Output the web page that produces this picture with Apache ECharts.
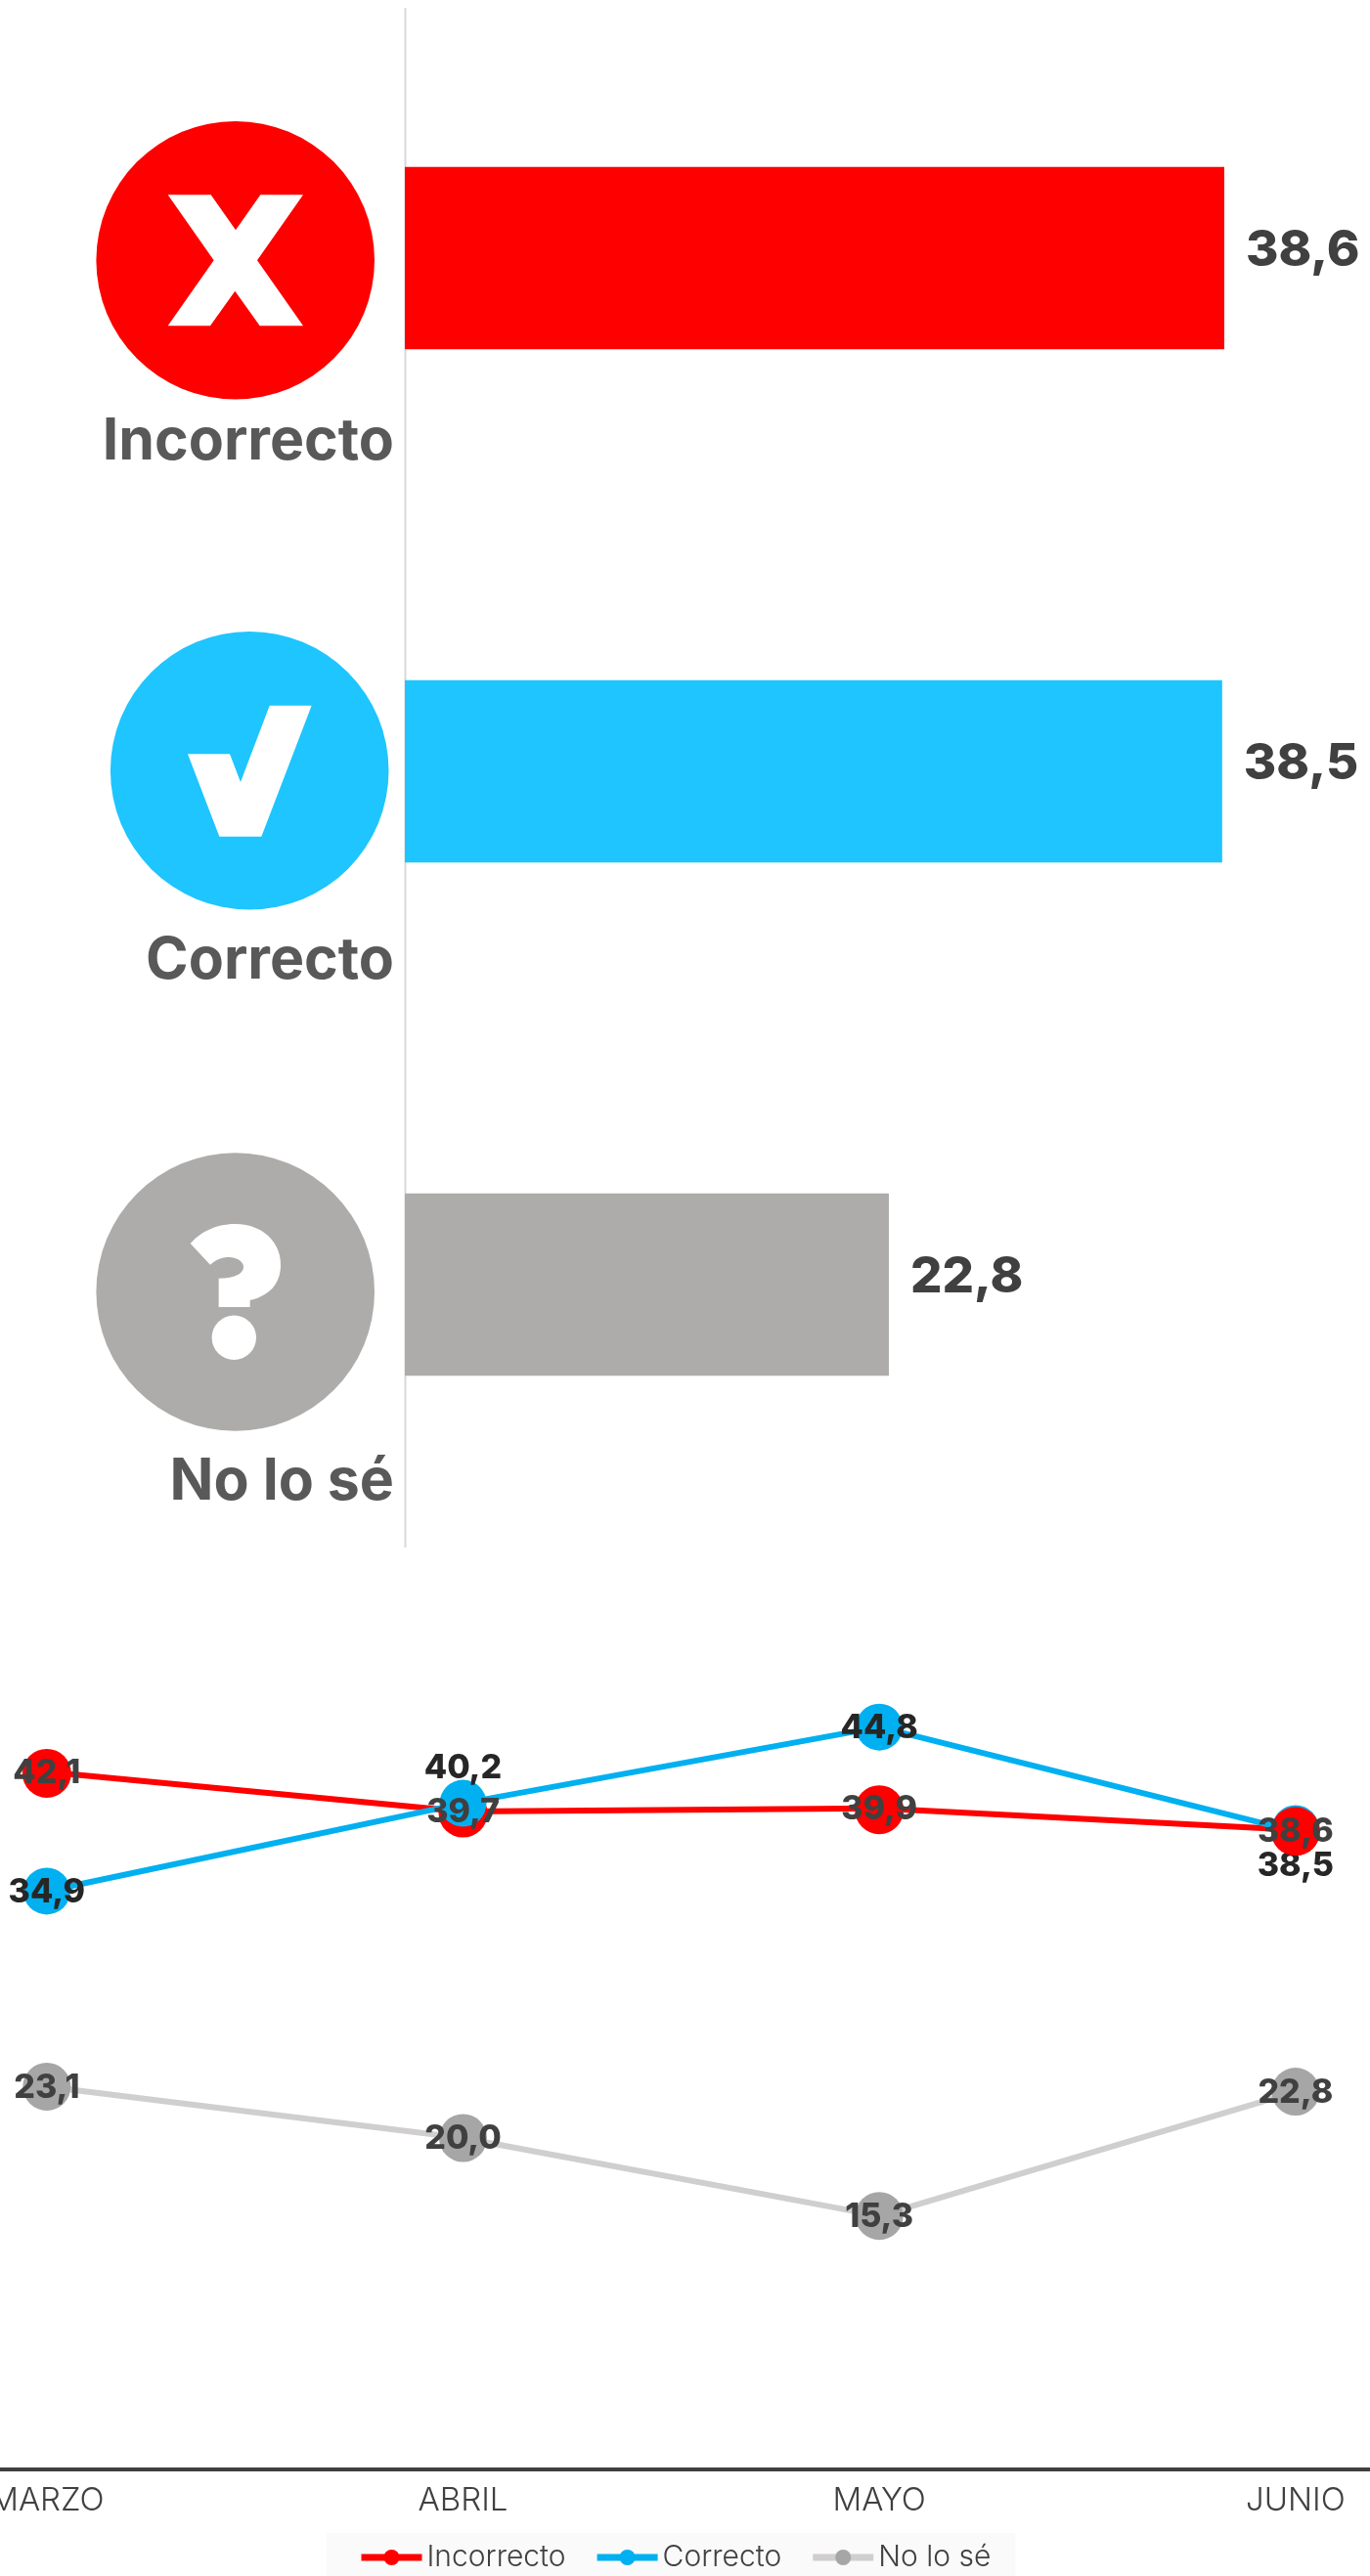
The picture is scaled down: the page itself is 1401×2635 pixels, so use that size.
<!DOCTYPE html>
<html><head><meta charset="utf-8">
<style>html,body{margin:0;padding:0;background:#fff}#c{width:1401px;height:2635px}</style>
<script src="https://cdn.jsdelivr.net/npm/echarts@6/dist/echarts.min.js"></script>
</head><body><div id="c"></div>
<script>
// Top chart data
const answerCategories = ['Incorrecto', 'Correcto', 'No lo sé'];
const answerValues = [38.6, 38.5, 22.8];
// Trend chart data
const months = ['MARZO', 'ABRIL', 'MAYO', 'JUNIO'];
const incorrecto = [42.1, 39.7, 39.9, 38.6];
const correcto = [34.9, 40.2, 44.8, 38.5];
const noLoSe = [23.1, 20.0, 15.3, 22.8];

const FONT = 'Inter, "Noto Sans", sans-serif';
const fmt = v => v.toFixed(1).replace('.', ',');
const barColors = ['#ff0000', '#1ec5ff', '#adacaa'];
const labelDrop = [188, 194.5, 202];

// icon helpers: zoom-crop coordinates to page pixels
const mapper = (ox, oy) => ([x, y]) => [ox + x / 3, oy + y / 3];
function bez(p0, p1, p2, p3, n = 14) {
  const out = [];
  for (let i = 1; i <= n; i++) {
    const t = i / n, u = 1 - t;
    out.push([0, 1].map(k => u*u*u*p0[k] + 3*u*u*t*p1[k] + 3*u*t*t*p2[k] + t*t*t*p3[k]));
  }
  return out;
}
const xIcon = [[245,268],[377,268],[453,376],[529,268],[660,268],[519,469],[660,670],[527,670],[451,563],[375,670],[245,670],[386,469]].map(mapper(90,110));
const checkIcon = [[306,424],[435,424],[468,510],[557,275],[686,275],[532,677],[403,677]].map(mapper(90,630));
const qIcon = [[344,366],
  ...bez([344,366],[380,325],[430,306],[480,306]),
  ...bez([480,306],[565,306],[621,360],[621,432]),
  ...bez([621,432],[621,490],[585,527],[527,540]),
  [527,561],[431,561],[431,473],
  ...bez([431,473],[475,473],[507,460],[507,438]),
  ...bez([507,438],[507,420],[485,408],[460,408]),
  ...bez([460,408],[438,408],[420,418],[405,431])
].map(mapper(80,1150));

const rich = {};
answerCategories.forEach((_, i) => {
  rich['c' + i] = { fontFamily: FONT, fontWeight: 700, fontSize: 59, color: '#595959', padding: [labelDrop[i] * 2, 0, 0, 0] };
});

const blueLabelShift = { 0: 1.5, 1: -35.5, 2: 1.5, 3: 38.5 };
const circle = (cx, cy, fill) => ({ type: 'circle', shape: { cx, cy, r: 142.3 }, style: { fill }, silent: true, z: 1 });
const poly = pts => ({ type: 'polygon', shape: { points: pts }, style: { fill: '#fff' }, silent: true, z: 2 });
const smallLabel = color => ({ show: true, position: 'inside', offset: [0, 1], formatter: p => fmt(p.value), color, fontFamily: FONT, fontWeight: 800, fontSize: 34 });

const option = {
  animation: false,
  backgroundColor: '#fff',
  textStyle: { fontFamily: FONT },
  grid: [
    { left: 414, top: 1.5, width: 868.4, height: 1575, containLabel: false, outerBoundsMode: 'none' },
    { left: -165, top: 1678.5, width: 1702.7, height: 847.5, containLabel: false, outerBoundsMode: 'none' }
  ],
  xAxis: [
    { gridIndex: 0, type: 'value', min: 0, max: 40, show: false, splitLine: { show: false } },
    { gridIndex: 1, type: 'category', data: months, boundaryGap: true,
      axisLine: { show: true, lineStyle: { color: '#404040', width: 4 } }, axisTick: { show: false },
      axisLabel: { interval: 0, color: '#404040', fontFamily: FONT, fontWeight: 300, fontSize: 33, margin: 16, hideOverlap: false } }
  ],
  yAxis: [
    { gridIndex: 0, type: 'category', inverse: true, data: answerCategories,
      axisLine: { show: false }, axisTick: { show: false },
      axisLabel: { interval: 0, margin: 11, align: 'right', formatter: (v, i) => `{c${i}|${v}}`, rich } },
    { gridIndex: 1, type: 'value', min: 0, max: 50, show: false, splitLine: { show: false } }
  ],
  legend: {
    left: 334, top: 2591, padding: [10, 25, 4, 32], backgroundColor: '#fafafa',
    itemWidth: 62, itemHeight: 20, itemGap: 28.5,
    data: ['Incorrecto', 'Correcto', 'No lo sé'],
    lineStyle: { width: 7 },
    textStyle: { color: '#404040', fontFamily: FONT, fontWeight: 300, fontSize: 30 }
  },
  graphic: { elements: [
    { type: 'line', shape: { x1: 414.5, y1: 8, x2: 414.5, y2: 1583 }, style: { stroke: '#d9d9d9', lineWidth: 2 }, silent: true, z: 1 },
    circle(240.7, 266.2, '#ff0000'), poly(xIcon),
    circle(255.2, 788.3, '#1ec5ff'), poly(checkIcon),
    circle(240.7, 1321.5, '#adacaa'), poly(qIcon),
    { type: 'circle', shape: { cx: 239.3, cy: 1368.3, r: 22.7 }, style: { fill: '#fff' }, silent: true, z: 2 }
  ] },
  series: [
    { type: 'bar', name: 'Respuestas', xAxisIndex: 0, yAxisIndex: 0, barWidth: 186.5,
      data: answerValues.map((v, i) => ({ value: v, itemStyle: { color: barColors[i] } })),
      label: { show: true, position: 'right', distance: 22, offset: [0, -7.5], formatter: p => fmt(p.value),
        color: '#404040', fontFamily: FONT, fontWeight: 800, fontSize: 51 } },
    { type: 'line', name: 'Incorrecto', xAxisIndex: 1, yAxisIndex: 1, z: 3,
      data: incorrecto, symbol: 'circle', symbolSize: 50, symbolOffset: [0, 1.5], showSymbol: true, showAllSymbol: true,
      itemStyle: { color: '#ff0000' }, lineStyle: { color: '#ff0000', width: 6 } },
    { type: 'line', name: 'Correcto', xAxisIndex: 1, yAxisIndex: 1, z: 4,
      data: correcto.map((v, i) => ({ value: v, symbolOffset: i === 3 ? [0, -3] : [0, 0],
        label: { offset: [0, blueLabelShift[i]] } })),
      symbol: 'circle', symbolSize: 48, showAllSymbol: true,
      itemStyle: { color: '#00b0f0' }, lineStyle: { color: '#00b0f0', width: 6 },
      label: smallLabel('#262626') },
    { type: 'line', name: 'No lo sé', xAxisIndex: 1, yAxisIndex: 1, z: 3,
      data: noLoSe, symbol: 'circle', symbolSize: 49, showAllSymbol: true,
      itemStyle: { color: '#a6a6a6' }, lineStyle: { color: '#d0cece', width: 6 },
      label: smallLabel('#404040') },
    // Incorrecto's labels and its top-most JUNIO marker sit above the Correcto layer
    { type: 'line', name: 'Incorrecto (etiquetas)', xAxisIndex: 1, yAxisIndex: 1, z: 5,
      data: incorrecto.map((v, i) => i === 3
        ? { value: v, symbolSize: 50, symbolOffset: [0, 1.5], itemStyle: { color: '#ff0000' } }
        : { value: v, symbolSize: 2, itemStyle: { color: 'rgba(0,0,0,0)' } }),
      symbol: 'circle', showAllSymbol: true, lineStyle: { width: 0, opacity: 0 },
      label: smallLabel('#404040') }
  ]
};
const chart = echarts.init(document.getElementById('c'), null, { renderer: 'canvas' });
chart.setOption(option);
</script></body></html>
